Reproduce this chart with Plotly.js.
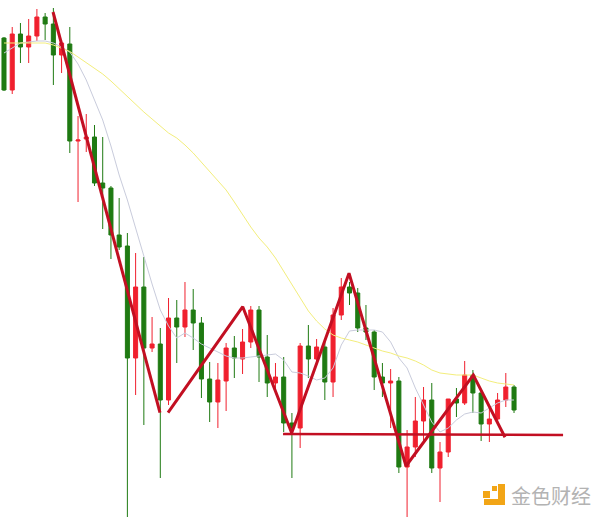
<!DOCTYPE html>
<html>
<head>
<meta charset="utf-8">
<script src="https://cdn.plot.ly/plotly-3.0.1.min.js"></script>
<style>html,body{margin:0;padding:0;background:#fff;}#chart{width:600px;height:517px;}</style>
</head>
<body>
<div id="chart"></div>
<script>
// ---- data (arbitrary price units) ----
const openP  = [562,510,566,553,564,583,576,545,556,459,461,463,417,412,365,354,242,313,252,256,200,282,273,290,277,221,198,219,252,241,258,290,243,217,223,177,172,254,241,253,218,285,313,307,272,268,223,217,219,133,153,179,200,132,148,201,197,225,207,176,181,200,213];
const closeP = [510,566,553,564,583,576,545,557,459,460,463,417,412,365,353,242,313,252,256,200,282,273,290,277,221,198,220,252,242,258,290,243,217,223,177,172,254,241,253,218,285,313,307,272,268,223,217,219,133,153,179,200,132,148,201,197,225,207,176,181,200,213,190];
const highP  = [563,573,577,581,591,587,592,560,573,484,486,475,463,414,402,367,347,343,283,272,302,300,318,311,283,238,237,257,264,271,294,294,265,237,243,187,257,275,261,260,292,322,318,312,295,270,237,231,223,170,203,213,217,158,201,212,239,230,210,193,207,227,215];
const lowP   = [509,506,537,537,559,560,515,527,447,398,448,414,371,341,350,70,205,175,248,122,195,237,263,250,202,178,172,189,222,226,252,218,203,210,168,122,152,222,238,200,203,280,295,268,260,210,203,172,127,75,143,158,127,98,143,183,195,187,159,158,178,193,187];
const maLong  = [557,557,557,557,557,557,555,552,548.5,543,537.5,532,526,519,511,503,495,488,481,474,467,462,455,447,438,429,420,410,398,385,373,362,353,342,329,315,302,289,279,271,265,262,260,258,255,252,249,247,244,242,239,235,230,227,226,225,225,225,222,219,217,216,215];
const maShort = [547,552,557,558,559,559,557,553,548,536,520,500,480,454,425,400,372,343,316,290,274,262,267,262,256,252,248,244,242,242,243,244,245,246,240,228,227,224,220,222,232,255,269,270,270,270,268,258,242,232,212,195,178,168,172,180,186,188,187,192,197,200,200];
// analyst trend lines (bar index, price)
const trend1X = [5.96, 18.96];
const trend1Y = [588, 187.3];
const trend2X = [19.94, 29.02, 34.97, 41.94, 48.87, 57.05, 60.9];
const trend2Y = [187.3, 293.3, 167, 326.7, 134, 225, 162.7];
const supportX = [33.92, 67.96];
const supportY = [166, 165];

const barIdx = openP.map((_, i) => i);

const RED = '#f0202e', GREEN = '#1f7a12', LINE = '#c20f22';

const traces = [
  {
    type: 'candlestick', x: barIdx, open: openP, high: highP, low: lowP, close: closeP,
    increasing: {line: {color: RED, width: 1}, fillcolor: RED},
    decreasing: {line: {color: GREEN, width: 1}, fillcolor: GREEN},
    whiskerwidth: 0, hoverinfo: 'skip'
  },
  {type: 'scatter', mode: 'lines', x: barIdx, y: maShort, line: {color: '#c9ccdc', width: 1}, hoverinfo: 'skip'},
  {type: 'scatter', mode: 'lines', x: barIdx, y: maLong, line: {color: '#f3ee7c', width: 1}, hoverinfo: 'skip'},
  {type: 'scatter', mode: 'lines', x: trend1X, y: trend1Y, line: {color: LINE, width: 3}, hoverinfo: 'skip'},
  {type: 'scatter', mode: 'lines', x: trend2X, y: trend2Y, line: {color: LINE, width: 3}, hoverinfo: 'skip'},
  {type: 'scatter', mode: 'lines', x: supportX, y: supportY, line: {color: LINE, width: 2.5}, hoverinfo: 'skip'}
];

const W = 600, H = 517;
const px = v => v / W, py = v => 1 - v / H;
const ORANGE = '#f2a516';
const layout = {
  width: W, height: H,
  margin: {l: 0, r: 0, t: 0, b: 0},
  paper_bgcolor: '#ffffff', plot_bgcolor: '#ffffff',
  showlegend: false,
  boxgap: 0.3,
  xaxis: {range: [-0.486, 72.45], visible: false, rangeslider: {visible: false}, fixedrange: true},
  yaxis: {range: [83, 600], visible: false, fixedrange: true},
  shapes: [
    {type: 'rect', xref: 'paper', yref: 'paper', x0: px(483), x1: px(490), y0: py(498), y1: py(491), fillcolor: ORANGE, line: {width: 0}},
    {type: 'rect', xref: 'paper', yref: 'paper', x0: px(492), x1: px(497), y0: py(491), y1: py(486), fillcolor: ORANGE, line: {width: 0}},
    {type: 'rect', xref: 'paper', yref: 'paper', x0: px(498), x1: px(505), y0: py(505), y1: py(484), fillcolor: ORANGE, line: {width: 0}},
    {type: 'rect', xref: 'paper', yref: 'paper', x0: px(484), x1: px(505), y0: py(505), y1: py(499), fillcolor: ORANGE, line: {width: 0}}
  ],
  annotations: [
    {xref: 'paper', yref: 'paper', x: px(509), y: py(495), xanchor: 'left', yanchor: 'middle',
     text: '金色财经', showarrow: false,
     font: {family: 'Noto Sans CJK SC, sans-serif', size: 20, color: '#b3b3b3'}}
  ]
};

Plotly.newPlot('chart', traces, layout, {staticPlot: true, displayModeBar: false});
</script>
</body>
</html>
